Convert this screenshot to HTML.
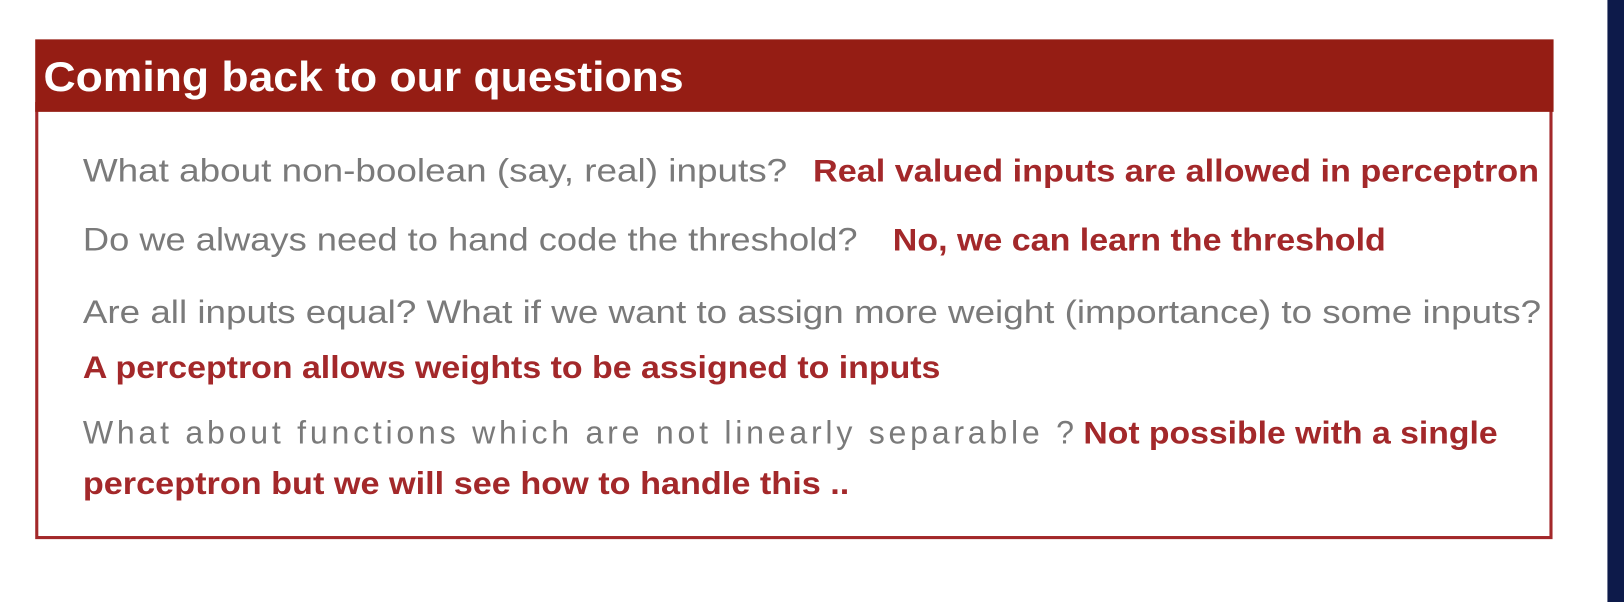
<!DOCTYPE html>
<html><head><meta charset="utf-8"><style>
html,body{margin:0;padding:0;background:#fff;}
svg{display:block}
text{font-family:"Liberation Sans",sans-serif;}
.g{fill:#7a7a7a;font-size:31px;}
.r{fill:#a3282a;font-size:30px;font-weight:bold;}
</style></head><body>
<svg width="1624" height="602" viewBox="0 0 1568 581.2" preserveAspectRatio="none">
<rect width="1568" height="582" fill="#fff"/>
<rect x="1552" y="0" width="16" height="582" fill="#0d1a4a"/>
<rect x="35.5" y="100" width="1462" height="419" fill="none" stroke="#a3282a" stroke-width="3"/>
<rect x="34" y="38" width="1466" height="70" fill="#951d14"/>
<text x="42" y="88" fill="#fff" font-size="40" font-weight="bold" textLength="618" lengthAdjust="spacingAndGlyphs">Coming back to our questions</text>
<text class="g" x="80" y="175" textLength="680" lengthAdjust="spacingAndGlyphs">What about non-boolean (say, real) inputs?</text>
<text class="r" x="785" y="175" textLength="701" lengthAdjust="spacingAndGlyphs">Real valued inputs are allowed in perceptron</text>
<text class="g" x="80" y="242" textLength="748" lengthAdjust="spacingAndGlyphs">Do we always need to hand code the threshold?</text>
<text class="r" x="862" y="242" textLength="476" lengthAdjust="spacingAndGlyphs">No, we can learn the threshold</text>
<text class="g" x="80" y="312" textLength="1408" lengthAdjust="spacingAndGlyphs">Are all inputs equal? What if we want to assign more weight (importance) to some inputs?</text>
<text class="r" x="80" y="365" textLength="828" lengthAdjust="spacingAndGlyphs">A perceptron allows weights to be assigned to inputs</text>
<text class="g" x="80" y="428" textLength="957" lengthAdjust="spacing">What about functions which are not linearly separable ?</text>
<text class="r" x="1046" y="428" textLength="400" lengthAdjust="spacingAndGlyphs">Not possible with a single</text>
<text class="r" x="80" y="477" textLength="740" lengthAdjust="spacingAndGlyphs">perceptron but we will see how to handle this ..</text>
</svg>
</body></html>
